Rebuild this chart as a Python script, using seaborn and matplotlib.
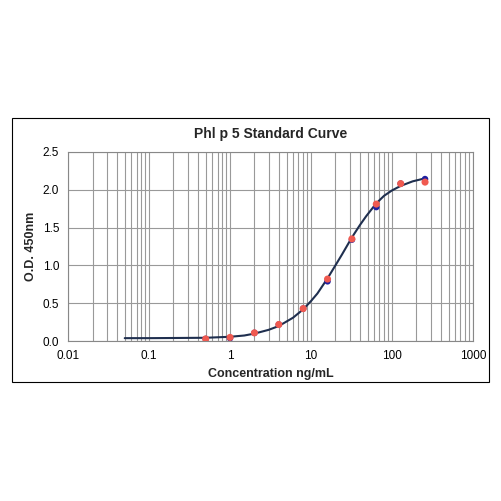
import numpy as np
import pandas as pd
import matplotlib
matplotlib.use('Agg')
import matplotlib.pyplot as plt
import seaborn as sns
from matplotlib.patches import Rectangle
from matplotlib.ticker import FixedLocator, LogLocator, NullFormatter

# standards (duplicate readings)
conc = [0.5, 1, 2, 4, 8, 16, 32, 64, 128, 256]
od_rep1 = [0.03, 0.05, 0.11, 0.22, 0.43, 0.82, 1.35, 1.81, 2.08, 2.10]
od_rep2 = [0.03, 0.04, 0.11, 0.22, 0.43, 0.79, 1.34, 1.77, 2.08, 2.14]

# fitted curve
curve_x = [0.05, 0.1, 0.2, 0.5, 1, 1.5, 2, 3, 4, 6, 8, 10, 12, 16, 20, 24, 32, 40, 48, 64, 80, 100, 128, 180, 256]
curve_y = [0.04, 0.04, 0.042, 0.045, 0.058, 0.075, 0.10, 0.15, 0.20, 0.31, 0.42, 0.53, 0.63, 0.83, 1.00, 1.14, 1.37, 1.53, 1.65, 1.82, 1.92, 1.99, 2.05, 2.11, 2.15]

sns.set_style('white')
plt.rcParams['font.family'] = ['Liberation Sans', 'DejaVu Sans']

fig = plt.figure(figsize=(5.01, 5.01), dpi=100)
fig.patches.append(Rectangle((12/501, 1-382/501), 477/501, 264/501, transform=fig.transFigure,
                             fill=False, edgecolor='black', linewidth=0.8))
ax = fig.add_axes([0.136, 0.319, 0.808, 0.378])

sns.lineplot(x=curve_x, y=curve_y, ax=ax, color='#1f2f4f', linewidth=1.5, zorder=3)
sns.scatterplot(x=conc, y=od_rep2, ax=ax, color='#2020a0', s=22, edgecolor='none', zorder=4)
sns.scatterplot(x=conc, y=od_rep1, ax=ax, color='#f05a50', s=26, edgecolor='none', zorder=5)

ax.set_xscale('log')
ax.set_xlim(0.01, 1000)
ax.set_ylim(0, 2.5)
ax.xaxis.set_major_locator(FixedLocator([0.01, 0.1, 1, 10, 100, 1000]))
ax.set_xticklabels(['0.01', '0.1', '1', '10', '100', '1000'])
ax.xaxis.set_minor_locator(LogLocator(base=10, subs=np.arange(2, 10)))
ax.xaxis.set_minor_formatter(NullFormatter())
ax.set_yticks([0, 0.5, 1.0, 1.5, 2.0, 2.5])
ax.set_yticklabels(['0.0', '0.5', '1.0', '1.5', '2.0', '2.5'])
ax.grid(True, which='major', color='#999999', linewidth=0.8)
ax.grid(True, which='minor', axis='x', color='#999999', linewidth=0.8)
for s in ax.spines.values():
    s.set_color('#888888')
ax.tick_params(labelsize=8.5, length=3, direction='out', colors='black')
ax.tick_params(axis='x', which='minor', length=0)

ax.set_title('Phl p 5 Standard Curve', fontsize=10, fontweight='bold', pad=10)
ax.set_xlabel('Concentration ng/mL', fontsize=9, fontweight='bold')
ax.set_ylabel('O.D. 450nm', fontsize=9, fontweight='bold')

fig.savefig('out.png', dpi=100)
